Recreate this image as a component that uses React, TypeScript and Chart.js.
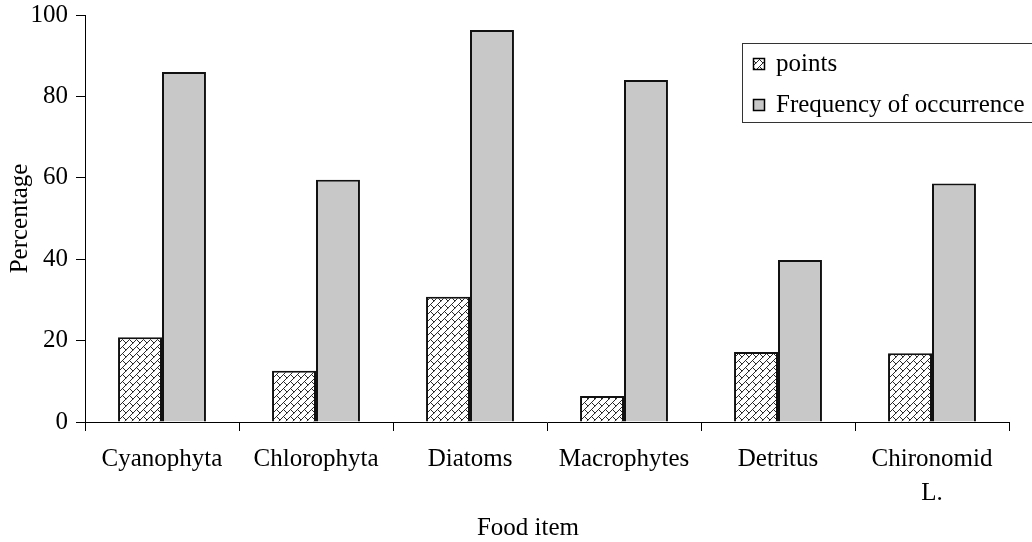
import React, { useEffect, useRef } from "react";
import { Chart, registerables } from "chart.js";

Chart.register(...registerables);

const categories: (string | string[])[] = [
  "Cyanophyta",
  "Chlorophyta",
  "Diatoms",
  "Macrophytes",
  "Detritus",
  ["Chironomid", "L."],
];
const pointsValues = [20.8, 12.6, 30.8, 6.4, 17.2, 16.9];
const frequencyValues = [86.0, 59.5, 96.3, 84.0, 39.8, 58.6];
const yTickValues = [0, 20, 40, 60, 80, 100];
const seriesLabels = ["points", "Frequency of occurrence"];
const xTitle = "Food item";
const yTitle = "Percentage";

const FONT = "'Liberation Serif', 'Times New Roman', serif";
const GRAY = "#c8c8c8";

function makeHatch(): CanvasPattern | string {
  const c = document.createElement("canvas");
  c.width = 7;
  c.height = 7;
  const g = c.getContext("2d");
  if (!g) return "#fff";
  g.fillStyle = "#fff";
  g.fillRect(0, 0, 7, 7);
  g.strokeStyle = "#2a2a2a";
  g.lineWidth = 1;
  g.beginPath();
  g.moveTo(-1, 8);
  g.lineTo(8, -1);
  g.moveTo(-1, 1);
  g.lineTo(1, -1);
  g.moveTo(6, 8);
  g.lineTo(8, 6);
  g.moveTo(3.5, 3.5);
  g.lineTo(7.5, 7.5);
  g.moveTo(-0.5, -0.5);
  g.lineTo(0.2, 0.2);
  g.stroke();
  return g.createPattern(c, "repeat") || "#fff";
}

export default function App() {
  const ref = useRef<HTMLCanvasElement | null>(null);

  useEffect(() => {
    if (!ref.current) return;
    const hatch = makeHatch();

    const overlay = {
      id: "overlay",
      afterDraw(chart: any) {
        const ctx = chart.ctx as CanvasRenderingContext2D;
        ctx.save();
        // legend box
        ctx.fillStyle = "#fff";
        ctx.fillRect(742.5, 43.5, 300, 79);
        ctx.strokeStyle = "#333";
        ctx.lineWidth = 1;
        ctx.strokeRect(742.5, 43.5, 300, 79);
        const fills = [hatch, GRAY];
        const rowY = [58.5, 99.5];
        const baseY = [71, 112];
        ctx.font = `25px ${FONT}`;
        ctx.textBaseline = "alphabetic";
        ctx.textAlign = "left";
        for (let i = 0; i < seriesLabels.length; i++) {
          ctx.fillStyle = fills[i] as any;
          ctx.fillRect(753.5, rowY[i], 11, 11);
          ctx.strokeStyle = "#000";
          ctx.lineWidth = 1.5;
          ctx.strokeRect(753.5, rowY[i], 11, 11);
          ctx.fillStyle = "#000";
          ctx.fillText(seriesLabels[i], 776, baseY[i]);
        }
        // x axis title
        ctx.textAlign = "center";
        ctx.fillText(xTitle, 528, 535);
        ctx.restore();
      },
    };

    const chart = new Chart(ref.current, {
      type: "bar",
      data: {
        labels: categories as any,
        datasets: [
          {
            label: seriesLabels[0],
            data: pointsValues,
            backgroundColor: hatch as any,
            borderColor: "#111",
            borderWidth: 2,
            barPercentage: 1,
            categoryPercentage: 0.571,
          },
          {
            label: seriesLabels[1],
            data: frequencyValues,
            backgroundColor: GRAY,
            borderColor: "#111",
            borderWidth: 2,
            barPercentage: 1,
            categoryPercentage: 0.571,
          },
        ],
      },
      options: {
        responsive: false,
        animation: false,
        layout: { padding: { top: 15, right: 23, left: 0, bottom: 0 } },
        plugins: {
          legend: { display: false },
          tooltip: { enabled: false },
        },
        scales: {
          x: {
            afterFit: (s: any) => {
              s.height = 120;
              s.paddingLeft = 0;
              s.paddingRight = 0;
            },
            grid: {
              display: true,
              drawOnChartArea: false,
              drawTicks: true,
              tickLength: 9,
              color: "#000",
              lineWidth: 1,
              offset: true,
            },
            border: { display: true, color: "#000", width: 1 },
            ticks: {
              color: "#000",
              font: { family: FONT, size: 25, lineHeight: 1.35 },
              padding: 12,
              maxRotation: 0,
              autoSkip: false,
            },
            title: { display: false, text: xTitle },
          },
          y: {
            min: 0,
            max: 100,
            afterFit: (s: any) => {
              s.width = 85;
              s.paddingTop = 0;
              s.paddingBottom = 0;
            },
            afterBuildTicks: (s: any) => {
              s.ticks = yTickValues.map((v) => ({ value: v }));
            },
            grid: {
              display: true,
              drawOnChartArea: false,
              drawTicks: true,
              tickLength: 9,
              color: "#000",
              lineWidth: 1,
            },
            border: { display: true, color: "#000", width: 1 },
            ticks: {
              color: "#000",
              font: { family: FONT, size: 25, lineHeight: 1 },
              padding: 8,
            },
            title: {
              display: true,
              text: yTitle,
              color: "#000",
              font: { family: FONT, size: 25 },
              padding: { top: 5, bottom: 0 },
            },
          },
        },
      },
      plugins: [overlay],
    });

    return () => chart.destroy();
  }, []);

  return (
    <div style={{ position: "absolute", left: 0, top: 0, width: 1032, height: 542, background: "#fff" }}>
      <canvas ref={ref} width={1032} height={542} style={{ display: "block" }} />
    </div>
  );
}
